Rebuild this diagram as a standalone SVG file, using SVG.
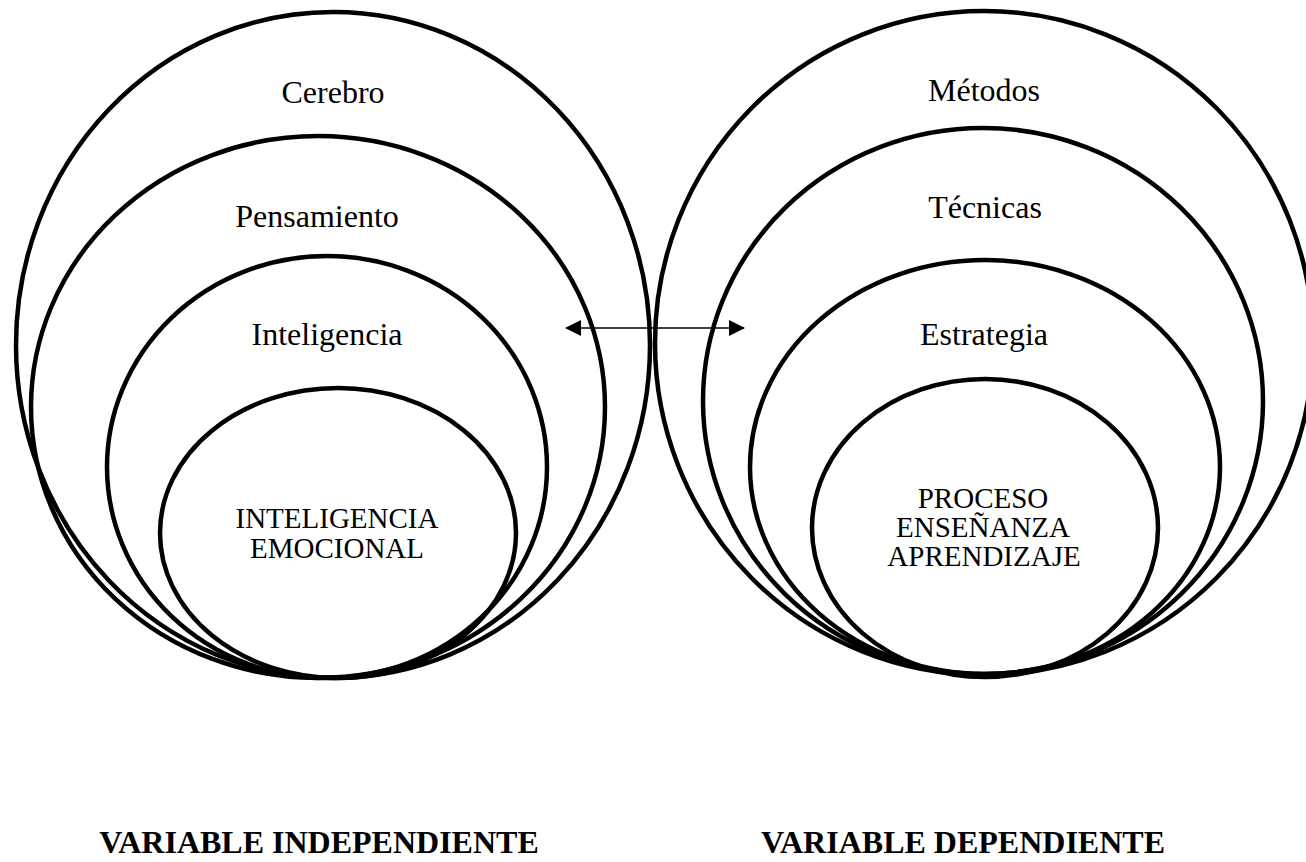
<svg xmlns="http://www.w3.org/2000/svg" width="1306" height="862" viewBox="0 0 1306 862">
  <style>
    .ring { fill: none; stroke: #000; stroke-width: 4.5; }
    .lbl { font-family: "Liberation Serif", "Times New Roman", serif; font-size: 32px; fill: #000; text-anchor: middle; }
    .core { font-family: "Liberation Serif", "Times New Roman", serif; font-size: 29px; fill: #000; text-anchor: middle; }
    .var { font-family: "Liberation Serif", "Times New Roman", serif; font-size: 32px; font-weight: bold; fill: #000; text-anchor: middle; }
    .link { stroke: #000; stroke-width: 1.5; fill: none; }
  </style>
  <defs>
    <marker id="ah" viewBox="0 0 16 16" refX="15" refY="8" markerWidth="16" markerHeight="16" markerUnits="userSpaceOnUse" orient="auto-start-reverse">
      <path d="M0,0 L16,8 L0,16 Z" fill="#000"/>
    </marker>
  </defs>
  <rect width="1306" height="862" fill="#fff"/>

  <g id="cerebro">
    <ellipse class="ring" cx="333" cy="345" rx="317" ry="333"/>
    <text class="lbl" x="333" y="103">Cerebro</text>
  </g>
  <g id="pensamiento">
    <ellipse class="ring" cx="318" cy="407" rx="287" ry="271"/>
    <text class="lbl" x="317" y="227">Pensamiento</text>
  </g>
  <g id="inteligencia">
    <ellipse class="ring" cx="327" cy="467" rx="220" ry="211"/>
    <text class="lbl" x="327" y="345">Inteligencia</text>
  </g>
  <g id="inteligencia-emocional">
    <ellipse class="ring" cx="338" cy="533" rx="178" ry="145"/>
    <text class="core" x="337" y="528">INTELIGENCIA</text>
    <text class="core" x="337" y="558">EMOCIONAL</text>
  </g>

  <g id="metodos">
    <ellipse class="ring" cx="984" cy="343" rx="329" ry="332"/>
    <text class="lbl" x="984" y="101">Métodos</text>
  </g>
  <g id="tecnicas">
    <ellipse class="ring" cx="983" cy="401" rx="280" ry="273"/>
    <text class="lbl" x="985" y="218">Técnicas</text>
  </g>
  <g id="estrategia">
    <ellipse class="ring" cx="985" cy="467" rx="235" ry="207"/>
    <text class="lbl" x="984" y="345">Estrategia</text>
  </g>
  <g id="proceso">
    <ellipse class="ring" cx="985" cy="528" rx="173" ry="149"/>
    <text class="core" x="983" y="508">PROCESO</text>
    <text class="core" x="983" y="537">ENSEÑANZA</text>
    <text class="core" x="984" y="566">APRENDIZAJE</text>
  </g>

  <g id="connectors">
    <line class="link" x1="566" y1="328" x2="744" y2="328" marker-start="url(#ah)" marker-end="url(#ah)"/>
  </g>

  <g id="var-independiente">
    <text class="var" x="319" y="853">VARIABLE INDEPENDIENTE</text>
  </g>
  <g id="var-dependiente">
    <text class="var" x="963" y="853">VARIABLE DEPENDIENTE</text>
  </g>
</svg>
